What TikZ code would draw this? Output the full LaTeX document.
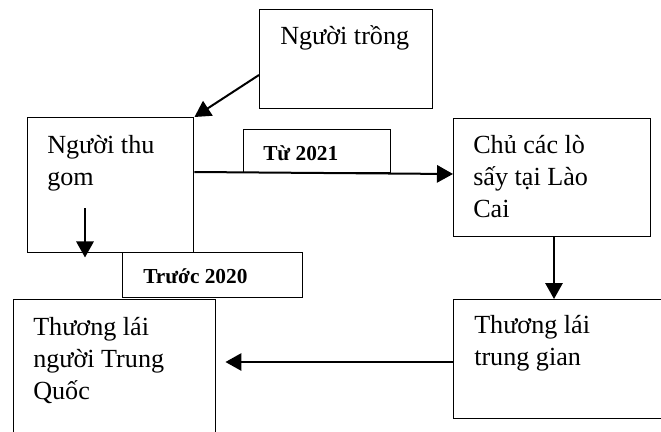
\documentclass[tikz,border=0pt]{standalone}
\usepackage{fontspec}
\setmainfont{Liberation Serif}
\usetikzlibrary{arrows.meta,calc}
\newcommand{\mylines}[1]{\begin{tabular}[t]{@{}l@{}}#1\end{tabular}}
\begin{document}
\begin{tikzpicture}[x=0.75pt,y=-0.75pt,
  box/.style={draw,line width=1.1pt,fill=white,inner sep=0pt,anchor=north west},
  txt/.style={anchor=base west,inner sep=0pt,font=\fontsize{19.6}{24}\selectfont},
  tagtxt/.style={anchor=base west,inner sep=0pt,font=\bfseries\fontsize{16}{18}\selectfont},
  arr/.style={line width=1.5pt,-{Triangle[length=12pt,width=13pt]}}]
\useasboundingbox (0,0) rectangle (661,432);
\clip (0,0) rectangle (661,432);
\fill[white] (0,0) rectangle (661,432);
% boxes
\node[box,minimum width=129.75pt,minimum height=74.25pt] (trong) at (259,9) {};
\node[box,minimum width=124.5pt,minimum height=101.25pt] (thugom) at (27,117) {};
\node[box,minimum width=147.75pt,minimum height=88.5pt] (cho) at (453,118) {};
\node[box,minimum width=170.25pt,minimum height=89.25pt] (trunggian) at (453,299) {};
\node[box,minimum width=151.5pt,minimum height=113.25pt] (tq) at (13,299) {};
\node[box,minimum width=110.25pt,minimum height=32.25pt] (tu) at (243,129) {};
\node[box,minimum width=135pt,minimum height=33.75pt] (truoc) at (122,252) {};
% texts
\node[txt] (ttrong) at ($(trong.north west)+(21,36)$) {Người trồng};
\node[txt] (tthugom) at ($(thugom.north west)+(20,36)$) {\mylines{Người thu\\gom}};
\node[txt] (tcho) at ($(cho.north west)+(20,35)$) {\mylines{Chủ các lò\\sấy tại Lào\\Cai}};
\node[txt] (ttrunggian) at ($(trunggian.north west)+(21,34)$) {\mylines{Thương lái\\trung gian}};
\node[txt] (ttq) at ($(tq.north west)+(20,36)$) {\mylines{Thương lái\\người Trung\\Quốc}};
\node[tagtxt] (ttu) at ($(tu.north west)+(20,31)$) {Từ 2021};
\node[tagtxt] (ttruoc) at ($(truoc.north west)+(21,31)$) {Trước 2020};
% arrows
\draw[arr] ($(trong.north west)+(0,66)$) -- (thugom.north east);
\draw[arr] ($(thugom.north east)+(0,55)$) -- ($(cho.north west)+(0,56)$);
\draw[arr] ($(cho.south west)+(101,0)$) -- ($(trunggian.north west)+(101,0)$);
\draw[arr] ($(trunggian.north west)+(0,63)$) -- ($(tq.north east)+(9,63)$);
\coordinate (gs) at ($(thugom.south west)+(58,-45)$);
\coordinate (ge) at ($(thugom.south west)+(58,4)$);
\draw[arr] (gs) -- (ge);
\end{tikzpicture}
\end{document}
